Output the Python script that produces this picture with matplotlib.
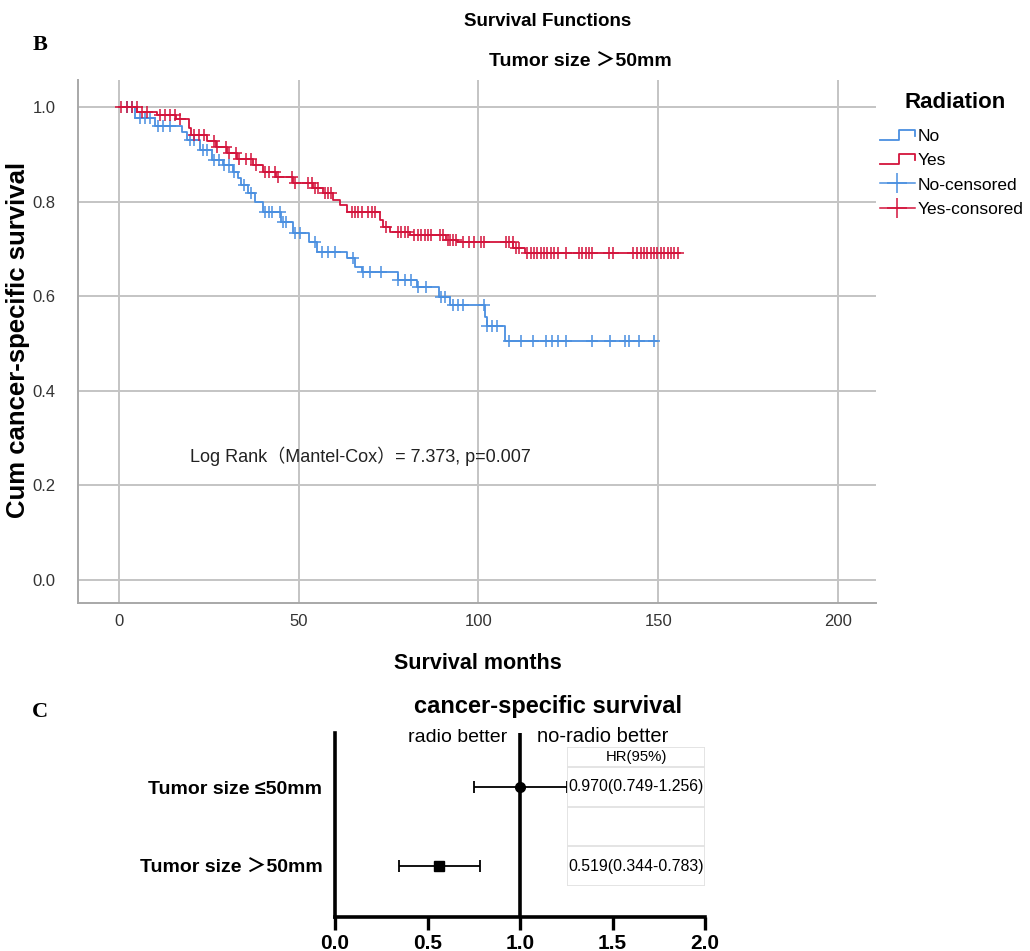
import numpy as np
import matplotlib
matplotlib.use("Agg")
import matplotlib.pyplot as plt
from matplotlib.legend_handler import HandlerBase
from matplotlib.lines import Line2D

# ---- panel B: Kaplan-Meier curves
no_times = [0, 4.5, 10, 17.4, 19, 22.5, 26, 29, 31.8, 33, 34, 36, 37.8, 40, 45, 48.5,
            53, 55, 63.3, 65.6, 67.5, 77.6, 83, 89, 92, 101.8, 102.3, 107.4]
no_surv = [1.0, 0.976, 0.96, 0.948, 0.93, 0.909, 0.888, 0.877, 0.863, 0.85, 0.835, 0.818,
           0.80, 0.778, 0.757, 0.733, 0.715, 0.694, 0.68, 0.662, 0.652, 0.634, 0.62, 0.599,
           0.581, 0.557, 0.536, 0.506]
no_end = 149.6
no_censor = [2.1, 3.5, 5.8, 7.2, 8.6, 10.9, 12.3, 14.1, 19.7, 21, 23.3, 24.6, 26.4, 27.8,
             29.2, 30.6, 32, 34.7, 36.6, 40.7, 41.6, 42.5, 44.8, 45.7, 46.6, 48.9, 50.3,
             54.5, 56.4, 58.2, 60, 65.1, 67.9, 69.7, 73, 77.6, 79.5, 81.3, 83.1, 85.4, 89.5,
             90.6, 92.9, 94.3, 95.6, 101.6, 102.5, 103.9, 105.3, 108.6, 111.9, 115.1, 118.8,
             120.6, 122, 124.3, 131.7, 136.7, 140.9, 141.8, 144.6, 148.8]

yes_times = [0, 5, 10.5, 16, 19.5, 20, 24.4, 27, 30, 32.7, 37.3, 40, 43.8, 48.5, 54, 56.8,
             59.6, 61.5, 63.3, 72.5, 73.5, 75.5, 81, 91, 94, 109.6, 113]
yes_surv = [1.0, 0.99, 0.983, 0.975, 0.955, 0.941, 0.927, 0.916, 0.902, 0.891, 0.877, 0.863,
            0.853, 0.839, 0.828, 0.818, 0.803, 0.793, 0.779, 0.762, 0.747, 0.736, 0.729,
            0.719, 0.715, 0.702, 0.692]
yes_end = 156
yes_censor = [0.7, 2.1, 3.5, 4.9, 6.3, 7.7, 11.4, 12.7, 14.1, 15.5, 16.9, 21, 22.3, 23.7,
              26.4, 27.4, 29.7, 30.6, 32.5, 33.4, 35.2, 36.6, 38, 40.7, 41.6, 43.4, 44.3, 48,
              48.9, 52.6, 53.6, 54.5, 55.4, 57.2, 58.2, 59.1, 64.7, 65.6, 66.6, 67.5, 69.4,
              70.3, 71.2, 74.4, 77.6, 78.5, 79.5, 80.4, 82.2, 83.1, 84.1, 85, 85.9, 86.8,
              89.2, 90.1, 91.5, 92, 92.9, 93.8, 95.6, 97.5, 98.9, 100.7, 101.6, 107.7, 108.6,
              109.5, 110.4, 111.3, 113.6, 114.5, 115.5, 116.4, 117.3, 118.2, 119.2, 120.1,
              121, 122, 124.3, 128, 128.9, 129.8, 130.7, 131.7, 136.3, 137.3, 142.9, 144.2,
              145.2, 146.1, 147, 148, 148.9, 149.8, 150.7, 151.6, 152.6, 153.5, 154.4, 155.5]

# ---- panel C: forest plot
groups = ["Tumor size \u226450mm", "Tumor size \uff1e50mm"]
hr = [0.970, 0.519]
ci_lo = [0.749, 0.344]
ci_hi = [1.256, 0.783]
marks = ["o", "s"]

blue = "#4a8fe0"
red = "#d3143c"
grid_c = "#c4c4c4"

sans = ["Liberation Sans", "Noto Sans CJK SC"]

W, H = 1030, 951
def fx(px):
    return px / W
def fy(py):
    return 1 - py / H

fig = plt.figure(figsize=(W / 100, H / 100), dpi=100)

# ================= B =================
ax = fig.add_axes([fx(78), fy(603), fx(876) - fx(78), fy(80) - fy(603)])
ax.set_xlim(-11.4, 210.6)
ax.set_ylim(-0.0486, 1.057)
ax.set_xticks([0, 50, 100, 150, 200])
ax.set_yticks([0.0, 0.2, 0.4, 0.6, 0.8, 1.0])
ax.set_yticklabels(["0.0", "0.2", "0.4", "0.6", "0.8", "1.0"])
ax.grid(True, color=grid_c, lw=1.4)
ax.set_axisbelow(True)
for s in ["top", "right"]:
    ax.spines[s].set_visible(False)
for s in ["left", "bottom"]:
    ax.spines[s].set_color("#a8a8a8")
    ax.spines[s].set_linewidth(1.4)
ax.tick_params(axis="y", length=0, pad=16, labelsize=12, labelcolor="#333333")
ax.tick_params(axis="x", length=0, pad=8, labelsize=12, labelcolor="#333333")
for lab in ax.get_xticklabels() + ax.get_yticklabels():
    lab.set_family("Liberation Sans")


def km(times, surv, end, censor, color):
    t = list(times) + [end]
    s = list(surv) + [surv[-1]]
    line, = ax.step(t, s, where="post", color=color, lw=1.3)
    idx = np.searchsorted(times, censor, side="right") - 1
    ax.plot(censor, np.array(surv)[idx], ls="none", marker="+", ms=9, mew=1.3,
            color=color, alpha=0.85)
    return line


km(no_times, no_surv, no_end, no_censor, blue)
km(yes_times, yes_surv, yes_end, yes_censor, red)

ax.text(19.7, 0.262, "Log Rank\uff08Mantel-Cox\uff09= 7.373, p=0.007", ha="left", va="center",
        fontsize=13, family=sans, color="#222222")

ax.set_ylabel("Cum cancer-specific survival", fontsize=18.5, weight="bold", family="Liberation Sans")
ax.yaxis.set_label_coords(-0.060, 0.503)
ax.set_xlabel("Survival months", fontsize=15.5, weight="bold", family="Liberation Sans")
ax.xaxis.set_label_coords(0.501, -0.096)


class StepHandler(HandlerBase):
    def create_artists(self, legend, orig_handle, xdescent, ydescent, width, height,
                       fontsize, trans):
        xs = np.array([0, 0.55, 0.55, 1.0, 1.0]) * width - xdescent
        ys = np.array([0.1, 0.1, 0.9, 0.9, 0.45]) * height - ydescent
        return [Line2D(xs, ys, color=orig_handle.get_color(),
                       lw=orig_handle.get_linewidth(), transform=trans)]


h_no = Line2D([], [], color=blue, lw=1.3)
h_yes = Line2D([], [], color=red, lw=1.3)
h_noc = Line2D([], [], color=blue, lw=1.1, marker="+", ms=14, mew=1.1)
h_yesc = Line2D([], [], color=red, lw=1.1, marker="+", ms=14, mew=1.1)
leg = fig.legend([h_no, h_yes, h_noc, h_yesc], ["No", "Yes", "No-censored", "Yes-consored"],
                 handler_map={h_no: StepHandler(), h_yes: StepHandler()},
                 loc="upper left", bbox_to_anchor=(fx(880), fy(129)), frameon=False,
                 prop={"family": "Liberation Sans", "size": 12.5},
                 handlelength=2.0, handletextpad=0.15, labelspacing=0.52, borderpad=0,
                 borderaxespad=0)
fig.text(fx(955), fy(102), "Radiation", ha="center", va="center", fontsize=16,
         weight="bold", family="Liberation Sans")

fig.text(fx(548), fy(22), "Survival Functions", ha="center", va="center",
         fontsize=13.5, weight="bold", family=sans)
fig.text(fx(580), fy(62), "Tumor size \uff1e50mm", ha="center", va="center",
         fontsize=14, weight="bold", family=sans)
fig.text(fx(40), fy(45), "B", ha="center", va="center", fontsize=16, weight="bold",
         family="Liberation Serif")

# ================= C =================
ypos = [2, 1]
fa = fig.add_axes([fx(335), fy(917), fx(705) - fx(335), fy(733) - fy(917)])
fa.set_xlim(0, 2)
fa.set_ylim(0.354, 2.684)
# the original draws each point at the middle of its interval
mids = (np.array(ci_lo) + np.array(ci_hi)) / 2
for m, lo, hi, y, mk in zip(mids, ci_lo, ci_hi, ypos, marks):
    fa.errorbar(m, y, xerr=[[m - lo], [hi - m]], fmt=mk, color="black", ms=7,
                elinewidth=1.3, capsize=4, capthick=1.3)
fa.axvline(1.0, color="black", lw=2.6)
for s in ["top", "right"]:
    fa.spines[s].set_visible(False)
for s in ["left", "bottom"]:
    fa.spines[s].set_linewidth(2.6)
fa.set_xticks([0, 0.5, 1.0, 1.5, 2.0])
fa.set_xticklabels(["0.0", "0.5", "1.0", "1.5", "2.0"])
fa.tick_params(axis="x", length=9, width=2.4, pad=3, labelsize=15)
fa.set_yticks(ypos)
fa.set_yticklabels(groups)
fa.tick_params(axis="y", length=0, pad=9, labelsize=14)
for lab in fa.get_xticklabels() + fa.get_yticklabels():
    lab.set_family(sans)
    lab.set_fontweight("bold")

fig.text(fx(548), fy(706), "cancer-specific survival", ha="center", va="center",
         fontsize=17, weight="bold", family=sans)
fig.text(fx(458), fy(737), "radio better", ha="center", va="center", fontsize=14,
         family=sans)
fig.text(fx(603), fy(737), "no-radio better", ha="center", va="center", fontsize=14.5,
         family=sans)
fig.text(fx(40), fy(712), "C", ha="center", va="center", fontsize=16, weight="bold",
         family="Liberation Serif")

# HR table to the right
ta = fig.add_axes([fx(567), fy(886), fx(705) - fx(567), fy(747) - fy(886)])
ta.set_xlim(0, 1)
ta.set_ylim(0.747, 2.506)
ta.axis("off")
for yb in [0.747, 1.253, 1.747, 2.253, 2.506]:
    ta.axhline(yb, color="#e2e2e2", lw=1.3)
for xb in [0, 1]:
    ta.axvline(xb, color="#e2e2e2", lw=1.3)
ta.text(0.5, 2.38, "HR(95%)", ha="center", va="center", fontsize=10.7, family=sans)
for y, h, lo, hi in zip(ypos, hr, ci_lo, ci_hi):
    ta.text(0.5, y, f"{h:.3f}({lo:.3f}-{hi:.3f})", ha="center", va="center",
            fontsize=11.4, family=sans)

fig.savefig("out.png", dpi=100)
